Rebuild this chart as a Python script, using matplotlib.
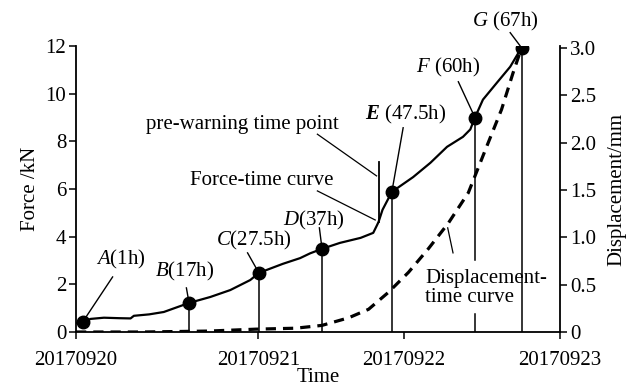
import matplotlib
matplotlib.use("Agg")
import matplotlib.pyplot as plt
import numpy as np

plt.rcParams["font.family"] = ["Liberation Serif", "DejaVu Serif"]
plt.rcParams["mathtext.fontset"] = "custom"
plt.rcParams["mathtext.rm"] = "Liberation Serif"
plt.rcParams["mathtext.it"] = "Liberation Serif:italic"
plt.rcParams["mathtext.bf"] = "Liberation Serif:bold:italic"

# Force record (elapsed hours, kN)
force_hours = [0.0, 1.0, 2.2, 4.2, 6.5, 8.2, 8.7, 11.0, 13.2, 15.3, 17.0, 20.2, 23.2, 26.2,
               27.5, 31.1, 33.7, 35.2, 37.0, 39.7, 42.8, 44.7, 45.3, 45.5, 46.1, 47.5,
               50.7, 53.3, 55.8, 58.2, 59.3, 60.0, 61.2, 63.3, 65.3, 67.0]
force_kn = [0.38, 0.42, 0.55, 0.60, 0.58, 0.57, 0.68, 0.74, 0.84, 1.05, 1.22, 1.47, 1.76, 2.18,
            2.48, 2.86, 3.10, 3.30, 3.49, 3.74, 3.95, 4.16, 4.50, 4.62, 5.13, 5.88,
            6.50, 7.10, 7.77, 8.19, 8.50, 9.00, 9.75, 10.46, 11.13, 11.93]

# Displacement record (elapsed hours, mm)
disp_hours = [0.0, 10.0, 20.0, 27.0, 33.0, 37.0, 41.0, 44.0, 47.0, 50.0, 53.0, 56.0,
              59.0, 62.0, 64.0, 65.7, 67.0]
disp_mm = [0.0, 0.0, 0.01, 0.03, 0.04, 0.07, 0.15, 0.24, 0.42, 0.63, 0.88, 1.15,
           1.47, 2.00, 2.35, 2.73, 3.00]

# Key monitoring points
point_names = ["A", "B", "C", "D", "E", "F", "G"]
point_hours = [1.0, 17.0, 27.5, 37.0, 47.5, 60.0, 67.0]
point_kn = [0.42, 1.22, 2.48, 3.49, 5.88, 9.00, 11.93]
point_labels = [r"$\mathit{A}$(1h)", r"$\mathit{B}$(17h)", r"$\mathit{C}$(27.5h)",
                r"$\mathit{D}$(37h)", r"$\mathbf{E}$ (47.5h)", r"$\mathit{F}$ (60h)",
                r"$\mathit{G}$ (67h)"]
label_xy = [(6.7, 3.03), (16.3, 2.52), (26.8, 3.86), (35.8, 4.70),
            (49.5, 9.12), (55.9, 11.09), (64.5, 13.03)]
leader_start = [(5.5, 2.31), (16.6, 1.85), (25.8, 3.32), (36.6, 4.37),
                (49.2, 8.57), (57.5, 10.5), (65.3, 12.56)]

date_ticks = [0.0, 27.4, 49.3, 72.8]
date_labels = ["20170920", "20170921", "20170922", "20170923"]
prewarning_hour = 45.6

fig = plt.figure(figsize=(6.4, 3.87), dpi=100)
ax = fig.add_axes([0.1188, 0.1421, 0.7563, 0.739])
ax2 = ax.twinx()

fs = 15

ax.plot(force_hours, force_kn, color="black", lw=1.6, zorder=4)
ax2.plot(disp_hours, disp_mm, color="black", lw=2.3, ls=(0, (3.2, 2.2)), zorder=4)
ax.plot(point_hours, point_kn, "o", color="black", ms=9, zorder=6)

# Drop lines from each point to the time axis
for name, h, v in zip(point_names, point_hours, point_kn):
    if name == "A":
        continue
    if name == "F":
        ax.plot([h, h], [v, 3.02], color="black", lw=1.1, zorder=3)
        ax.plot([h, h], [0.76, 0], color="black", lw=1.1, zorder=3)
    else:
        ax.plot([h, h], [v, 0], color="black", lw=1.1, zorder=3)

# Point labels with leader lines
for lab, (tx, ty), (lx, ly), h, v in zip(point_labels, label_xy, leader_start,
                                         point_hours, point_kn):
    ax.text(tx, ty, lab, ha="center", va="center", fontsize=fs, clip_on=False)
    ax.plot([lx, h], [ly, v], color="black", lw=1.0, clip_on=False, zorder=5)

# Pre-warning marker
ax.plot([prewarning_hour, prewarning_hour], [4.6, 7.14], color="black", lw=1.3, zorder=5)
ax.text(25.0, 8.7, "pre-warning time point", ha="center", va="center", fontsize=fs)
ax.plot([36.3, 45.2], [8.3, 6.55], color="black", lw=0.9)

ax.text(28.0, 6.34, "Force-time curve", ha="center", va="center", fontsize=fs)
ax.plot([36.3, 45.0], [5.92, 4.7], color="black", lw=0.9)

ax.text(52.5, 1.85, "Displacement-\ntime curve", ha="left", va="center",
        fontsize=fs, linespacing=0.95)
ax.plot([56.7, 55.9], [3.32, 4.37], color="black", lw=0.9)

# Axes styling
ax.set_xlim(0, 72.8)
ax.set_ylim(0, 12)
ax2.set_ylim(0, 3.02)
ax.set_xticks(date_ticks)
ax.set_xticklabels(date_labels)
ax.set_yticks(np.arange(0, 13, 2))
ax2.set_yticks([0, 0.5, 1.0, 1.5, 2.0, 2.5, 3.0])
ax2.set_yticklabels(["0", "0.5", "1.0", "1.5", "2.0", "2.5", "3.0"])

for a in (ax, ax2):
    a.spines["top"].set_visible(False)
    for s in a.spines.values():
        s.set_linewidth(1.3)
    a.tick_params(direction="out", length=5, width=1.1, labelsize=fs, pad=2)
ax.spines["right"].set_visible(False)
ax2.spines["left"].set_visible(False)
ax2.spines["bottom"].set_visible(False)
ax.tick_params(axis="x", pad=9)

ax.set_xlabel("Time", fontsize=fs, labelpad=-2)
ax.set_ylabel("Force /kN", fontsize=fs, labelpad=4)
ax2.set_ylabel("Displacement/mm", fontsize=fs, labelpad=8)

fig.savefig("out.png", dpi=100)
